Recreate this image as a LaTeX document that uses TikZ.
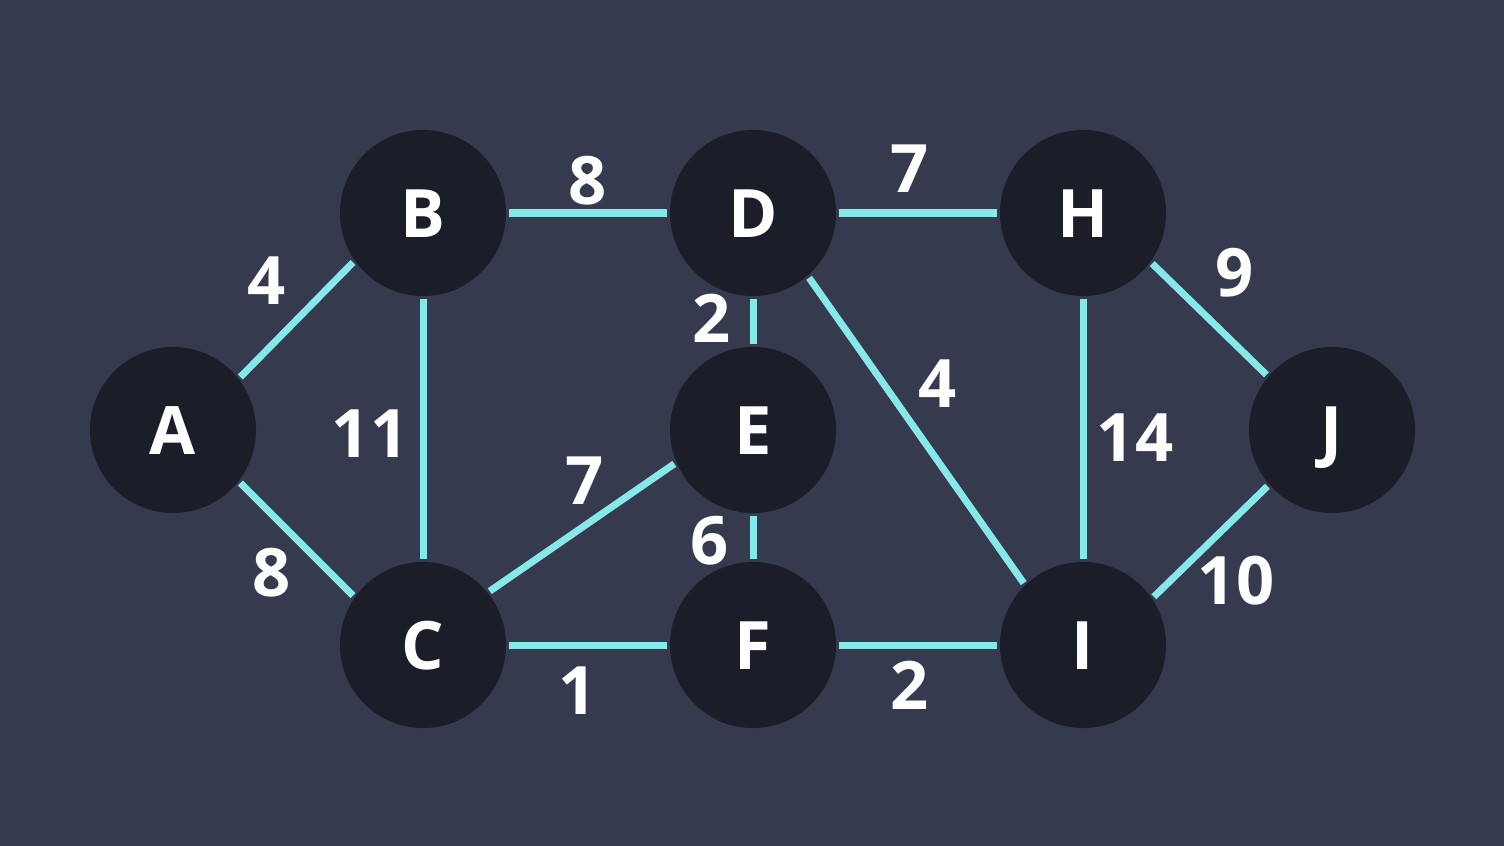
\documentclass[tikz,border=0pt]{standalone}
\usepackage{fontspec}
\setmainfont{Open Sans}
\definecolor{bgblue}{RGB}{54,58,79}
\definecolor{nodefill}{RGB}{27,30,40}
\definecolor{linkcyan}{RGB}{134,232,233}

\begin{document}
\begin{tikzpicture}[x=0.01cm, y=-0.01cm,
    vertex/.style={circle, fill=nodefill, minimum size=1.66cm, inner sep=0pt,
        text=white, font=\fontsize{19}{23}\selectfont\bfseries,
        text height=0.48cm, text depth=0pt},
    link/.style={draw=linkcyan, line width=0.07cm, shorten <=0.02cm, shorten >=0.02cm},
    weight/.style={text=white, font=\fontsize{19}{23}\selectfont\bfseries,
        inner sep=0pt, text height=0.48cm, text depth=0pt}]
    % background and margins
    \fill[bgblue] (0,0) rectangle (1504,846);
    \useasboundingbox (0,0) rectangle (1504,846);

    % vertices
    \node[vertex] (A) at (173,430)  {A};
    \node[vertex] (B) at (423,213)  {B};
    \node[vertex] (C) at (423,645)  {C};
    \node[vertex] (D) at (753,213)  {D};
    \node[vertex] (E) at (753,430)  {E};
    \node[vertex] (F) at (753,645)  {F};
    \node[vertex] (H) at (1083,213) {H};
    \node[vertex] (I) at (1083,645) {I};
    \node[vertex] (J) at (1332,430) {J};

    % links (diagonals leave the circles at fixed angles)
    \draw[link] (A.38) -- (B.215);
    \draw[link] (A.322) -- (C.145);
    \draw[link] (B) -- (C);
    \draw[link] (B) -- (D);
    \draw[link] (C.39) -- (E.203);
    \draw[link] (C) -- (F);
    \draw[link] (D) -- (E);
    \draw[link] (E) -- (F);
    \draw[link] (D) -- (H);
    \draw[link] (D.311) -- (I.134);
    \draw[link] (F) -- (I);
    \draw[link] (H) -- (I);
    \draw[link] (H.324) -- (J.140);
    \draw[link] (I.34) -- (J.221);

    % weights
    \node[weight] (wAB) at (267,280)  {4};
    \node[weight] (wAC) at (272,572)  {8};
    \node[weight] (wBC) at (370,433)  {11};
    \node[weight] (wBD) at (588,180)  {8};
    \node[weight] (wCE) at (585,480)  {7};
    \node[weight] (wCF) at (578,690)  {1};
    \node[weight] (wDE) at (712,318)  {2};
    \node[weight] (wEF) at (710,540)  {6};
    \node[weight] (wDH) at (910,168)  {7};
    \node[weight] (wDI) at (938,383)  {4};
    \node[weight] (wFI) at (910,685)  {2};
    \node[weight] (wHI) at (1135,437) {14};
    \node[weight] (wHJ) at (1235,272) {9};
    \node[weight] (wIJ) at (1236,580) {10};
\end{tikzpicture}
\end{document}
